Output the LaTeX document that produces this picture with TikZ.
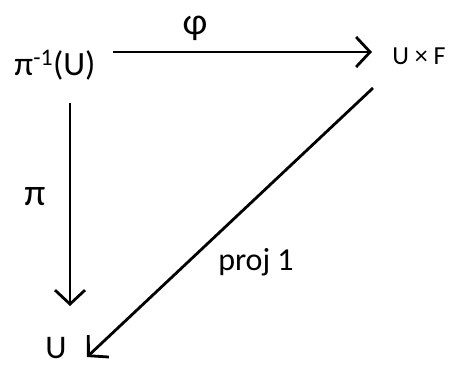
\documentclass[tikz,border=0pt]{standalone}
\usepackage{fontspec}
\setmainfont{Carlito}
\usetikzlibrary{arrows.meta}
\begin{document}
\begin{tikzpicture}[x=1pt,y=-1pt,
  lbl/.style={inner sep=0pt,text depth=0pt,font=\fontsize{30}{30}\selectfont},
  arr/.style={line width=2.8pt,-{Straight Barb[length=14pt,width=30pt,line width=2.8pt]}}]
\useasboundingbox (0,0) rectangle (452,365);
\node[lbl,anchor=base,font=\fontsize{34}{34}\selectfont] (pu) at (55,75) {π\textsuperscript{-1}(U)};
\node[lbl,anchor=base,font=\fontsize{26}{26}\selectfont] (uf) at (419,64) {U × F};
\node[lbl,anchor=base,font=\fontsize{33}{33}\selectfont] (u) at (56,358) {U};
\node[lbl,anchor=base,font=\fontsize{38}{38}\selectfont] (phi) at (195,34) {φ};
\node[lbl,anchor=base,font=\fontsize{38}{38}\selectfont] (pi) at (35,205) {π};
\node[lbl,anchor=base,font=\fontsize{32}{32}\selectfont] (proj) at (256,270) {proj 1};
\coordinate (a1) at (113,52);
\coordinate (a2) at (372,52);
\coordinate (b1) at (70,103);
\coordinate (b2) at (70,306);
\coordinate (c1) at (373,88);
\coordinate (c2) at (87,357);
\draw[arr] (a1) -- (a2);
\draw[arr] (b1) -- (b2);
\draw[arr] (c1) -- (c2);
\end{tikzpicture}
\end{document}
